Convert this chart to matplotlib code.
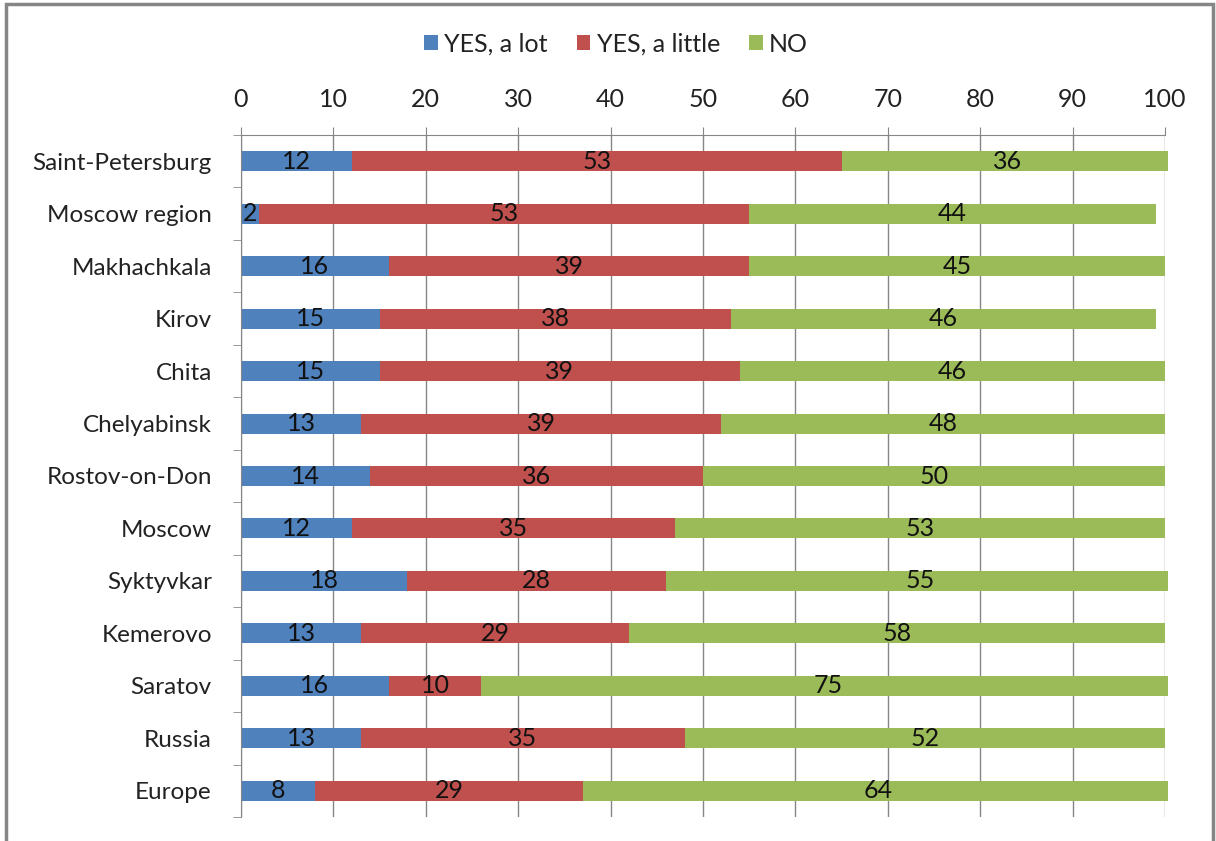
import matplotlib.pyplot as plt
from matplotlib.patches import Rectangle
import numpy as np

plt.rcParams['font.family'] = ['Lato', 'DejaVu Sans']

cities = ['Saint-Petersburg', 'Moscow region', 'Makhachkala', 'Kirov', 'Chita',
          'Chelyabinsk', 'Rostov-on-Don', 'Moscow', 'Syktyvkar', 'Kemerovo',
          'Saratov', 'Russia', 'Europe']
yes_lot = [12, 2, 16, 15, 15, 13, 14, 12, 18, 13, 16, 13, 8]
yes_little = [53, 53, 39, 38, 39, 39, 36, 35, 28, 29, 10, 35, 29]
no = [36, 44, 45, 46, 46, 48, 50, 53, 55, 58, 75, 52, 64]

series = [('YES, a lot', yes_lot, '#4F81BD'),
          ('YES, a little', yes_little, '#C0504D'),
          ('NO', no, '#9BBB59')]

fig = plt.figure(figsize=(12.16, 8.41), dpi=100)
ax = fig.add_axes([241/1216, 1-817/841, (1165-241)/1216, (817-135)/841])

# bars running past 100 get cut just beyond the axis end
clip = Rectangle((0, -0.5), 100.3, 13, transform=ax.transData)

y = np.arange(len(cities))
left = np.zeros(len(cities))
for name, vals, col in series:
    vals = np.array(vals, dtype=float)
    bars = ax.barh(y, vals, left=left, height=0.38, color=col, label=name,
                   zorder=3)
    for b in bars:
        b.set_clip_path(clip)
    for yi, l, v in zip(y, left, vals):
        ax.text(l + v/2, yi, f'{int(v)}', ha='center', va='center',
                fontsize=18, color='#111111', zorder=4)
    left += vals

ax.set_xlim(0, 100)
ax.set_ylim(len(cities) - 0.5, -0.5)
ax.set_xticks(np.arange(0, 101, 10))
ax.xaxis.tick_top()
ax.tick_params(axis='x', labelsize=18, length=6, color='#868686', pad=11,
               labelcolor='#222222')
ax.set_yticks(y)
ax.set_yticklabels(cities)
ax.set_yticks(np.arange(-0.5, len(cities), 1), minor=True)
ax.tick_params(axis='y', which='major', length=0, labelsize=17.5, pad=21,
               labelcolor='#222222')
ax.tick_params(axis='y', which='minor', length=6, color='#868686')
ax.grid(axis='x', color='#868686', linewidth=1, zorder=0)
ax.set_axisbelow(True)
for s in ['right', 'bottom']:
    ax.spines[s].set_visible(False)
for s in ['top', 'left']:
    ax.spines[s].set_color('#868686')
    ax.spines[s].set_zorder(5)

ax.legend(loc='center', bbox_to_anchor=(616/1216, 1-44/841),
          bbox_transform=fig.transFigure, ncol=3, frameon=False,
          fontsize=18, handlelength=0.55, handleheight=0.55, handletextpad=0.25,
          columnspacing=1.15, labelcolor='#222222')

fig.patches.append(Rectangle((6/1216, -0.05), (1213-6)/1216, 1.05 - 4/841,
                             transform=fig.transFigure, fill=False,
                             edgecolor='#868686', linewidth=2.5))

fig.savefig('out.png', dpi=100)
